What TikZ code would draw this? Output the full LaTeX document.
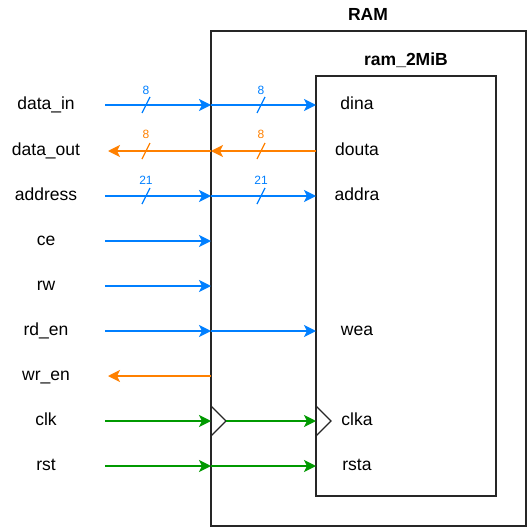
\documentclass[tikz,border=0pt]{standalone}
\usepackage{fontspec}
\setmainfont{Liberation Sans}
\usetikzlibrary{arrows.meta}
\definecolor{cblue}{HTML}{007FFF}
\definecolor{corange}{HTML}{FF8000}
\definecolor{cgreen}{HTML}{009900}
\begin{document}
\begin{tikzpicture}[x=1pt,y=-1pt,
  sig/.style={line width=1.5pt,-{Stealth[length=12pt,width=12pt,inset=3pt]}},
  bus/.style={sig},
  lbl/.style={font=\fontsize{17.5}{19}\selectfont, inner sep=0pt, anchor=base},
  plbl/.style={font=\fontsize{17.5}{19}\selectfont, inner sep=0pt, anchor=base},
  num/.style={font=\fontsize{12}{13}\selectfont, inner sep=0pt},
  boxline/.style={draw=black!85, line width=1.4pt},
  title/.style={font=\bfseries\fontsize{17.5}{19}\selectfont, inner sep=0pt}]
\useasboundingbox (0,0) rectangle (527,527);
% boxes
\draw[boxline] (211,31) rectangle (526,526);
\draw[boxline] (316,76) rectangle (496,496);
\node[title] (ram) at (368,14) {RAM};
\node[title] (ram2) at (406,60) {ram\_2MiB};
% clock triangles
\draw[line width=1.2pt,black!85] (211,406) -- (226,421) -- (211,436);
\draw[line width=1.2pt,black!85] (316,406) -- (331,421) -- (316,436);
% left labels
\foreach \n/\t/\y in {a/data\_in/105, b/data\_out/151, c/address/196, d/ce/241, e/rw/286, f/rd\_en/331, g/wr\_en/376, h/clk/421, i/rst/466}{
  \node[lbl] (L\n) at (46,\y+4.5) {\t};
  \coordinate (S\n) at (105,\y);
  \coordinate (M\n) at (211,\y);
  \coordinate (E\n) at (316,\y);
}
\coordinate (Cg) at (108,376);
\coordinate (Ch) at (226,421);
% port labels
\node[plbl] (pa) at (357,109) {dina};
\node[plbl] (pb) at (357,155) {douta};
\node[plbl] (pc) at (357,200) {addra};
\node[plbl] (pf) at (357,335) {wea};
\node[plbl] (ph) at (357,425) {clka};
\node[plbl] (pi) at (357,470) {rsta};
% arrows
\draw[bus,cblue] (Sa) -- (Ma);
\draw[bus,cblue] (Ma) -- (Ea);
\draw[bus,corange] (Eb) -- (Mb);
\draw[bus,corange] (Mb) -- ([xshift=3pt]Sb);
\draw[bus,cblue] (Sc) -- (Mc);
\draw[bus,cblue] (Mc) -- (Ec);
\draw[sig,cblue] (Sd) -- (Md);
\draw[sig,cblue] (Se) -- (Me);
\draw[sig,cblue] (Sf) -- (Mf);
\draw[sig,cblue] (Mf) -- (Ef);
\draw[sig,corange] (Mg) -- (Cg);
\draw[sig,cgreen] (Sh) -- (Mh);
\draw[sig,cgreen] (Ch) -- (Eh);
\draw[sig,cgreen] (Si) -- (Mi);
\draw[sig,cgreen] (Mi) -- (Ei);
% bus slashes and widths
\foreach \x in {146,261}{
  \draw[cblue,line width=1.2pt] (\x-4,113) -- (\x+4,97);
  \node[num,cblue] at (\x,90) {8};
  \draw[corange,line width=1.2pt] (\x-4,159) -- (\x+4,143);
  \node[num,corange] at (\x,134) {8};
  \draw[cblue,line width=1.2pt] (\x-4,204) -- (\x+4,188);
  \node[num,cblue] at (\x,180) {21};
}
\end{tikzpicture}
\end{document}
